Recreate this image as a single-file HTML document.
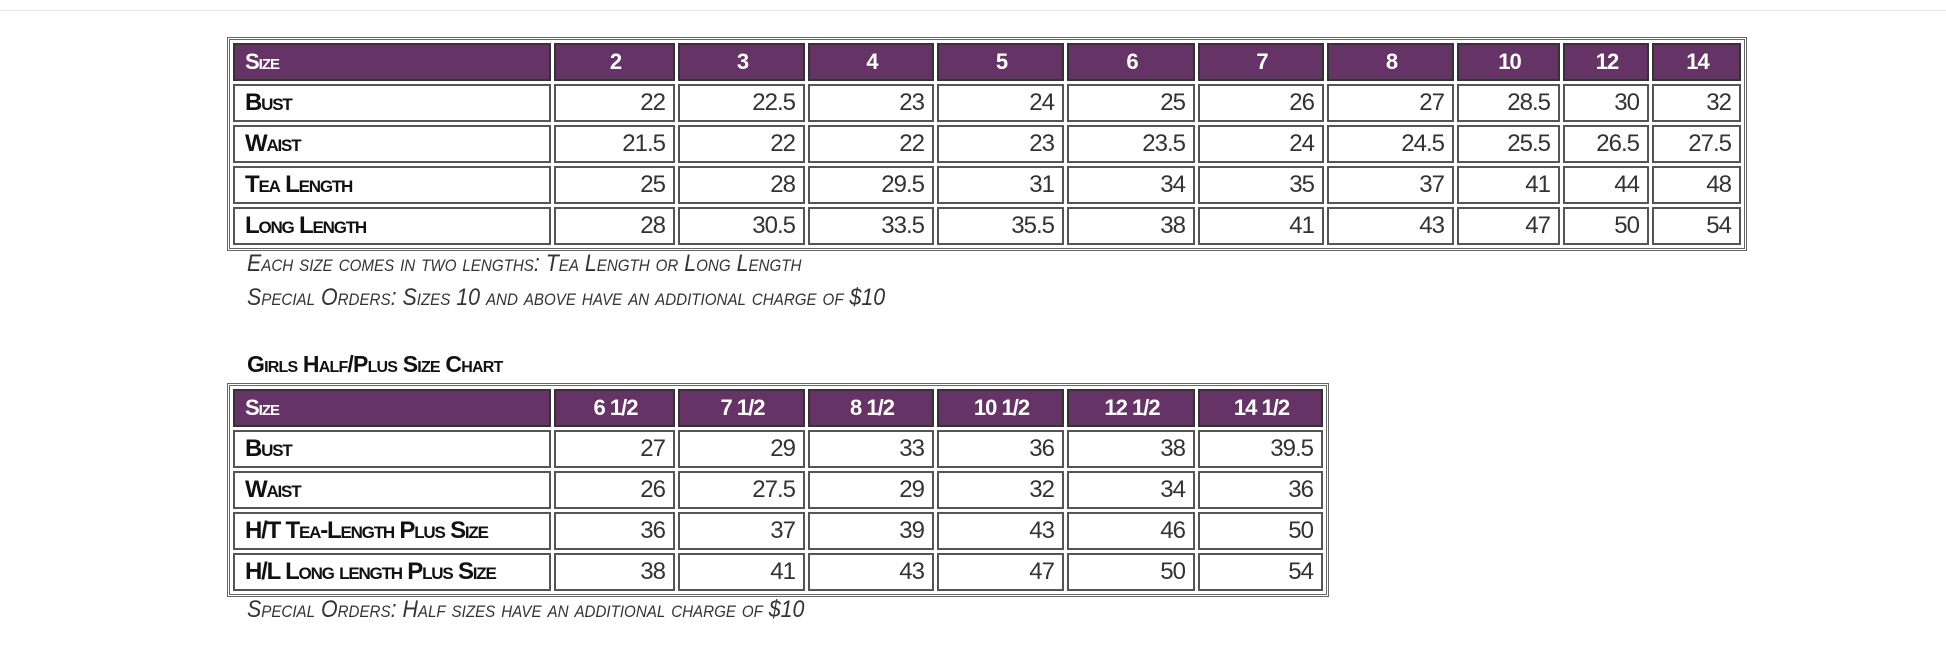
<!DOCTYPE html>
<html><head><meta charset="utf-8"><style>
body{margin:0;background:#fff;width:1946px;height:659px;position:relative;overflow:hidden;font-family:"Liberation Sans Narrow","Liberation Sans",sans-serif;}
.topline{position:absolute;left:0;top:10px;width:1946px;height:1px;background:#e6e6e6;}
table{position:absolute;left:227px;border:3px double #666;border-spacing:3px;table-layout:fixed;}
td,th{box-sizing:border-box;border:2px solid #555;height:38px;padding:0 8px 0 10px;font-size:24px;color:#333;text-align:right;white-space:nowrap;overflow:hidden;letter-spacing:-1px;}
th{background:#663366;color:#fff;text-align:center;font-weight:bold;font-size:22px;border-color:#333;}
th.l{text-align:left;font-variant:small-caps;}
td.l{text-align:left;font-weight:bold;color:#111;font-variant:small-caps;font-size:24px;letter-spacing:-1.2px;}
.note{position:absolute;left:247px;font-style:italic;font-variant:small-caps;font-size:24px;color:#333;white-space:nowrap;transform:scaleX(0.89);transform-origin:0 0;}
.title{position:absolute;left:247px;top:351px;font-weight:bold;font-variant:small-caps;font-size:23px;color:#111;letter-spacing:-0.8px;}
</style></head><body>
<div class="topline"></div>
<table style="top:37px;width:1514px">
<colgroup><col style="width:318px"><col style="width:121px"><col style="width:127px"><col style="width:126px"><col style="width:127px"><col style="width:128px"><col style="width:126px"><col style="width:127px"><col style="width:103px"><col style="width:86px"><col style="width:89px"></colgroup>
<tr><th class="l">Size</th><th>2</th><th>3</th><th>4</th><th>5</th><th>6</th><th>7</th><th>8</th><th>10</th><th>12</th><th>14</th></tr>
<tr><td class="l">Bust</td><td>22</td><td>22.5</td><td>23</td><td>24</td><td>25</td><td>26</td><td>27</td><td>28.5</td><td>30</td><td>32</td></tr>
<tr><td class="l">Waist</td><td>21.5</td><td>22</td><td>22</td><td>23</td><td>23.5</td><td>24</td><td>24.5</td><td>25.5</td><td>26.5</td><td>27.5</td></tr>
<tr><td class="l">Tea Length</td><td>25</td><td>28</td><td>29.5</td><td>31</td><td>34</td><td>35</td><td>37</td><td>41</td><td>44</td><td>48</td></tr>
<tr><td class="l">Long Length</td><td>28</td><td>30.5</td><td>33.5</td><td>35.5</td><td>38</td><td>41</td><td>43</td><td>47</td><td>50</td><td>54</td></tr>
</table>
<div class="note" style="top:250px">Each size comes in two lengths: Tea Length or Long Length</div>
<div class="note" style="top:284px">Special Orders: Sizes 10 and above have an additional charge of $10</div>
<div class="title">Girls Half/Plus Size Chart</div>
<table style="top:383px;width:1096px">
<colgroup><col style="width:318px"><col style="width:121px"><col style="width:127px"><col style="width:126px"><col style="width:127px"><col style="width:128px"><col style="width:125px"></colgroup>
<tr><th class="l">Size</th><th>6 1/2</th><th>7 1/2</th><th>8 1/2</th><th>10 1/2</th><th>12 1/2</th><th>14 1/2</th></tr>
<tr><td class="l">Bust</td><td>27</td><td>29</td><td>33</td><td>36</td><td>38</td><td>39.5</td></tr>
<tr><td class="l">Waist</td><td>26</td><td>27.5</td><td>29</td><td>32</td><td>34</td><td>36</td></tr>
<tr><td class="l">H/T Tea-Length Plus Size</td><td>36</td><td>37</td><td>39</td><td>43</td><td>46</td><td>50</td></tr>
<tr><td class="l">H/L Long length Plus Size</td><td>38</td><td>41</td><td>43</td><td>47</td><td>50</td><td>54</td></tr>
</table>
<div class="note" style="top:596px">Special Orders: Half sizes have an additional charge of $10</div>
</body></html>
